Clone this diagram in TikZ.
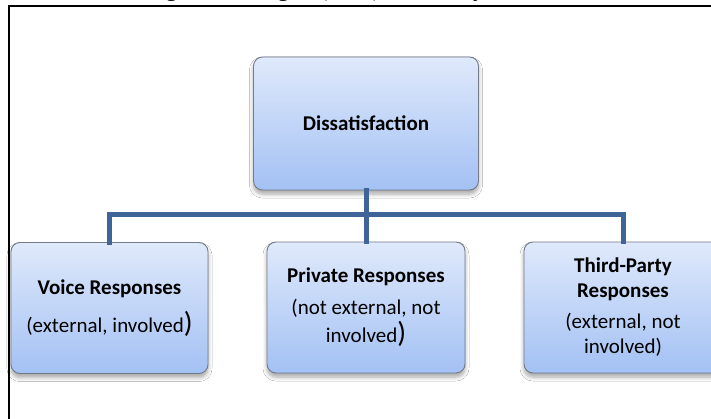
\documentclass[tikz,border=0pt]{standalone}
\usepackage{fontspec}
\setmainfont{Carlito}
\newfontfamily\capfont{Liberation Serif}
\usetikzlibrary{shadows.blur}
\definecolor{boxtop}{HTML}{DFE9FB}
\definecolor{boxbot}{HTML}{A3C1F4}
\definecolor{boxline}{HTML}{737B88}
\definecolor{linkblue}{HTML}{3F6598}
\newcommand{\bigparen}{{\fontsize{29}{25}\selectfont)}}
\tikzset{
  card/.style={rectangle, rounded corners=9pt, draw=boxline, line width=0.9pt,
    top color=boxtop, bottom color=boxbot, align=center, inner sep=0pt,
    blur shadow={shadow xshift=0pt, shadow yshift=-4pt, shadow blur steps=6, shadow opacity=35, shadow blur radius=4pt},
    font=\fontsize{21}{25}\selectfont},
  link/.style={draw=linkblue, line width=5pt, line cap=rect},
  frame/.style={draw=black, line width=2pt}
}
\begin{document}
\begin{tikzpicture}[x=1pt,y=-1pt]
\useasboundingbox (0,0) rectangle (711,419);
\begin{scope}
\clip (0,0) rectangle (711,419);
\fill[white] (0,0) rectangle (711,419);
\node[font=\capfont\fontsize{23}{26}\selectfont, anchor=base] (cap) at (354,-3) {Figure 2.1 Singh's (1988) Taxonomy of CCB};
\draw[frame] (9,430) -- (9,6) -- (720,6);
\node[card, minimum width=225pt, minimum height=133pt] (top) at (366,123.5) {\textbf{Dissatisfaction}};
\node[card, minimum width=197pt, minimum height=131pt] (voice) at (109.5,308) {\textbf{Voice Responses}\\[13pt](external, involved\bigparen};
\node[card, minimum width=198pt, minimum height=131pt] (private) at (366,307.5) {\textbf{Private Responses}\\[7pt](not external, not\\[3pt]involved\bigparen};
\node[card, minimum width=198pt, minimum height=131pt] (third) at (623,307.5) {\textbf{Third-Party}\\\textbf{Responses}\\[6pt](external, not\\involved)};
\coordinate (hub) at (366,215);
\draw[link] (top.south) -- (hub);
\draw[link] (voice.north) |- (hub);
\draw[link] (third.north) |- (hub);
\draw[link] (private.north) -- (hub);
\end{scope}
\end{tikzpicture}
\end{document}
